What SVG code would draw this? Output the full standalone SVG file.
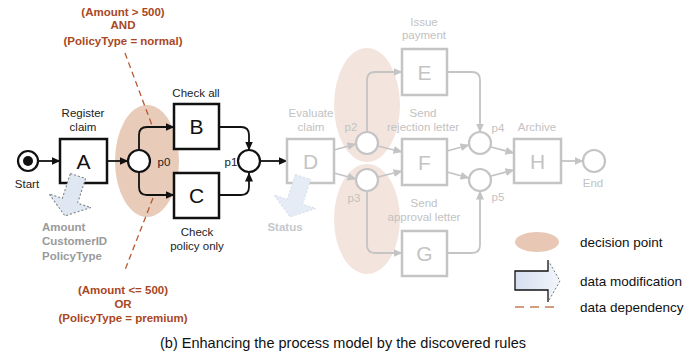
<svg xmlns="http://www.w3.org/2000/svg" width="686" height="356" viewBox="0 0 686 356">
<style>
text{font-family:"Liberation Sans",Arial,sans-serif}
.lbl{font-size:11.5px;text-anchor:middle;fill:#222}
.glbl{font-size:11.5px;text-anchor:middle;fill:#c2c2c2}
.big{font-size:21px;text-anchor:middle;fill:#111}
.gbig{font-size:21px;text-anchor:middle;fill:#c4c4c4}
.box{fill:#fff;stroke:#111;stroke-width:2.5}
.gbox{fill:#fff;stroke:#c4c4c4;stroke-width:2.5}
.pl{fill:#fff;stroke:#111;stroke-width:2.2}
.gpl{fill:#fff;stroke:#c4c4c4;stroke-width:2.2}
.arc{fill:none;stroke:#111;stroke-width:1.8}
.garc{fill:none;stroke:#c4c4c4;stroke-width:1.8}
.rule{font-size:11.5px;font-weight:bold;text-anchor:middle;fill:#a9471f}
.dep{fill:none;stroke:#b55a30;stroke-width:1.3;stroke-dasharray:6,4}
.data{font-size:11.5px;font-weight:bold;fill:#9a9a9a}
.leg{font-size:13.5px;fill:#111}
</style>
<defs>
<marker id="ah" markerWidth="9" markerHeight="8" refX="8.5" refY="4" orient="auto" markerUnits="userSpaceOnUse">
<path d="M0,0 L9,4 L0,8 Z" fill="#111"/>
</marker>
<marker id="gah" markerWidth="9" markerHeight="8" refX="8.5" refY="4" orient="auto" markerUnits="userSpaceOnUse">
<path d="M0,0 L9,4 L0,8 Z" fill="#c4c4c4"/>
</marker>
<linearGradient id="bl" x1="0" y1="0" x2="1" y2="0">
<stop offset="0" stop-color="#d6e0f0"/>
<stop offset="1" stop-color="#f2f5fb"/>
</linearGradient>
</defs>

<g id="decision-points">
<ellipse cx="367" cy="105" rx="33" ry="57" fill="#f3e5dd"/>
<ellipse cx="367" cy="219" rx="33" ry="55" fill="#f3e5dd"/>
<ellipse cx="147" cy="161" rx="32" ry="56" fill="#e8cbb9"/>
</g>

<g id="connectors">
<path class="arc" d="M38,161 H60" marker-end="url(#ah)"/>
<path class="arc" d="M107,161 H128" marker-end="url(#ah)"/>
<path class="arc" d="M139,150 V135 Q139,127 147,127 H174" marker-end="url(#ah)"/>
<path class="arc" d="M139,172 V187 Q139,195 147,195 H174" marker-end="url(#ah)"/>
<path class="arc" d="M219,127 H241 Q249,127 249,135 V150" marker-end="url(#ah)"/>
<path class="arc" d="M219,195 H241 Q249,195 249,187 V173" marker-end="url(#ah)"/>
<path class="arc" d="M260,161 H287" marker-end="url(#ah)"/>
<path class="garc" d="M334,150 L356,144" marker-end="url(#gah)"/>
<path class="garc" d="M334,173 L356,179" marker-end="url(#gah)"/>
<path class="garc" d="M367,132 V80 Q367,72 375,72 H402" marker-end="url(#gah)"/>
<path class="garc" d="M378,146 L402,152" marker-end="url(#gah)"/>
<path class="garc" d="M378,177 L402,171" marker-end="url(#gah)"/>
<path class="garc" d="M367,191 V245 Q367,253 375,253 H402" marker-end="url(#gah)"/>
<path class="garc" d="M447,72 H472 Q480,72 480,80 V132" marker-end="url(#gah)"/>
<path class="garc" d="M447,151 L469,145" marker-end="url(#gah)"/>
<path class="garc" d="M447,172 L469,178" marker-end="url(#gah)"/>
<path class="garc" d="M447,253 H472 Q480,253 480,245 V191" marker-end="url(#gah)"/>
<path class="garc" d="M491,147 L514,153" marker-end="url(#gah)"/>
<path class="garc" d="M491,176 L514,170" marker-end="url(#gah)"/>
<path class="garc" d="M561,161 H583" marker-end="url(#gah)"/>
<path class="dep" d="M125,53 L153,128"/>
<path class="dep" d="M153,198 L125,270"/>
</g>

<g id="start">
<circle class="pl" cx="28" cy="161" r="10"/>
<circle cx="28" cy="161" r="5" fill="#111"/>
<text class="lbl" x="27" y="188">Start</text>
</g>
<g id="A">
<rect class="box" x="60" y="139" width="47" height="44"/>
<text class="big" x="83.5" y="168.5">A</text>
<text class="lbl" x="83" y="117">Register</text>
<text class="lbl" x="83" y="131">claim</text>
</g>
<g id="p0">
<circle class="pl" cx="139" cy="161" r="11"/>
<text class="lbl" x="164" y="166">p0</text>
</g>
<g id="B">
<rect class="box" x="174" y="104" width="45" height="45"/>
<text class="big" x="196.5" y="134">B</text>
<text class="lbl" x="196" y="97">Check all</text>
</g>
<g id="C">
<rect class="box" x="174" y="173" width="45" height="45"/>
<text class="big" x="196.5" y="203">C</text>
<text class="lbl" x="197" y="236">Check</text>
<text class="lbl" x="197" y="250">policy only</text>
</g>
<g id="p1">
<circle class="pl" cx="249" cy="161" r="11"/>
<text class="lbl" x="231" y="166">p1</text>
</g>
<g id="D">
<rect class="gbox" x="287" y="139" width="47" height="44"/>
<text class="gbig" x="310.5" y="168.5">D</text>
<text class="glbl" x="311" y="117">Evaluate</text>
<text class="glbl" x="311" y="131">claim</text>
</g>
<g id="p2">
<circle class="gpl" cx="367" cy="143" r="11"/>
<text class="glbl" x="351" y="131">p2</text>
</g>
<g id="p3">
<circle class="gpl" cx="367" cy="180" r="11"/>
<text class="glbl" x="354" y="202">p3</text>
</g>
<g id="E">
<rect class="gbox" x="402" y="49" width="45" height="46"/>
<text class="gbig" x="424.5" y="79.5">E</text>
<text class="glbl" x="424" y="26">Issue</text>
<text class="glbl" x="424" y="39">payment</text>
</g>
<g id="F">
<rect class="gbox" x="402" y="139" width="45" height="46"/>
<text class="gbig" x="424.5" y="169.5">F</text>
<text class="glbl" x="423" y="117">Send</text>
<text class="glbl" x="423" y="131">rejection letter</text>
</g>
<g id="G">
<rect class="gbox" x="402" y="231" width="45" height="45"/>
<text class="gbig" x="424.5" y="261">G</text>
<text class="glbl" x="424" y="207">Send</text>
<text class="glbl" x="424" y="221">approval letter</text>
</g>
<g id="p4">
<circle class="gpl" cx="480" cy="143" r="11"/>
<text class="glbl" x="498" y="132">p4</text>
</g>
<g id="p5">
<circle class="gpl" cx="480" cy="180" r="11"/>
<text class="glbl" x="498" y="201">p5</text>
</g>
<g id="H">
<rect class="gbox" x="514" y="139" width="47" height="44"/>
<text class="gbig" x="537.5" y="168.5">H</text>
<text class="glbl" x="537" y="131">Archive</text>
</g>
<g id="end">
<circle class="gpl" cx="594" cy="161" r="11"/>
<text class="glbl" x="593" y="187">End</text>
</g>

<g id="data-A">
<path d="M-8,0 H8 V26 H22 L0,42 L-22,26 H-8 Z" transform="translate(78,176) rotate(18)" fill="#dfe7f3" stroke="#777" stroke-width="1" stroke-dasharray="2,2"/>
<text class="data" x="42" y="231">Amount</text>
<text class="data" x="42" y="245">CustomerID</text>
<text class="data" x="42" y="260">PolicyType</text>
</g>
<g id="data-D">
<path d="M-8,0 H8 V26 H22 L0,42 L-22,26 H-8 Z" transform="translate(303,177) rotate(18)" fill="#e6ecf5" stroke="#d6dde8" stroke-width="1" stroke-dasharray="2,2"/>
<text class="data" x="285" y="231" text-anchor="middle" style="fill:#c4c8cc">Status</text>
</g>

<g id="rule-top">
<text class="rule" x="123" y="16">(Amount &gt; 500)</text>
<text class="rule" x="123" y="29">AND</text>
<text class="rule" x="123" y="45">(PolicyType = normal)</text>
</g>
<g id="rule-bottom">
<text class="rule" x="123" y="294">(Amount &lt;= 500)</text>
<text class="rule" x="123" y="308">OR</text>
<text class="rule" x="123" y="322">(PolicyType = premium)</text>
</g>

<g id="legend">
<ellipse cx="537" cy="242" rx="22" ry="10" fill="#e8c8b5"/>
<text class="leg" x="580" y="247">decision point</text>
<path d="M515,271 H548 V260 L560,281 L548,302 V290 H515 Z" fill="url(#bl)"/>
<path d="M548,260 V271 H515 V290 H548 V302" fill="none" stroke="#111" stroke-width="1.3"/>
<path d="M548,260 L560,281 L548,302" fill="none" stroke="#777" stroke-width="1" stroke-dasharray="2,2"/>
<text class="leg" x="580" y="286">data modification</text>
<path d="M515,307 H560" fill="none" stroke="#c27e55" stroke-width="1.5" stroke-dasharray="9,6"/>
<text class="leg" x="580" y="312">data dependency</text>
</g>

<text x="343" y="348" text-anchor="middle" style="font-size:14.5px;fill:#111">(b) Enhancing the process model by the discovered rules</text>
</svg>
